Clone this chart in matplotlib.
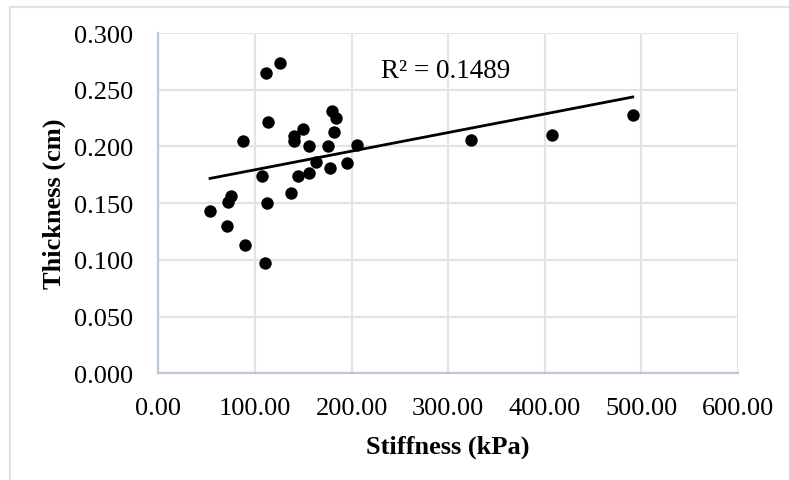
import matplotlib.pyplot as plt
import numpy as np
from matplotlib.patches import Rectangle

# Stiffness (kPa) vs thickness (cm)
stiffness = [53.5, 71.0, 72.3, 75.2, 89.7, 87.6, 110.3, 107.2, 112.0, 113.4,
             111.4, 125.9, 136.9, 140.3, 140.0, 149.6, 144.1, 155.5, 155.5, 162.8,
             175.2, 177.9, 179.3, 183.8, 181.4, 194.8, 205.5, 323.4, 407.8, 491.0]
thickness = [0.143, 0.130, 0.151, 0.156, 0.113, 0.205, 0.097, 0.174, 0.150, 0.222,
             0.265, 0.274, 0.159, 0.209, 0.205, 0.215, 0.174, 0.177, 0.200, 0.186,
             0.200, 0.181, 0.231, 0.225, 0.213, 0.185, 0.201, 0.206, 0.210, 0.228]
r2_label = "R\u00b2 = 0.1489"
xticks = [0, 100, 200, 300, 400, 500, 600]
yticks = [0.0, 0.05, 0.1, 0.15, 0.2, 0.25, 0.3]

plt.rcParams['font.family'] = ['Liberation Serif', 'DejaVu Serif']

fig = plt.figure(figsize=(7.89, 4.81), dpi=100)
ax = fig.add_axes([0.2007, 0.2216, 0.7348, 0.7077])

# light outer frame of the chart area
fig.patches.append(Rectangle((10 / 789, -0.1), 1.2, 1.1 - 8 / 481, transform=fig.transFigure,
                             fill=False, edgecolor="#dde3ec", linewidth=1.6))

x = np.array(stiffness)
y = np.array(thickness)
ax.scatter(x, y, s=80, color="black", zorder=3, linewidths=0)

slope, intercept = np.polyfit(x, y, 1)
xfit = np.array([x.min(), x.max()])
ax.plot(xfit, slope * xfit + intercept, color="black", linewidth=2, zorder=2)

ax.text(230, 0.267, r2_label, fontsize=19.5, va="center", ha="left")

ax.set_xlim(0, 600)
ax.set_ylim(0, 0.3)
ax.set_xticks(xticks)
ax.set_yticks(yticks)
ax.set_xticklabels([f"{v:.2f}" for v in xticks])
ax.set_yticklabels([f"{v:.3f}" for v in yticks])
ax.tick_params(length=0, labelsize=19)
ax.tick_params(axis="y", pad=18)
ax.tick_params(axis="x", pad=17)
ax.grid(True, color="#dfe4ec", linewidth=1.6)
ax.set_axisbelow(True)
for side in ["top", "right"]:
    ax.spines[side].set_visible(False)
for side in ["left", "bottom"]:
    ax.spines[side].set_color("#bcc7d8")
    ax.spines[side].set_linewidth(1.6)

ax.set_xlabel("Stiffness (kPa)", fontsize=19, fontweight="bold")
ax.set_ylabel("Thickness (cm)", fontsize=19, fontweight="bold")
ax.xaxis.label.set_va("center")
ax.yaxis.label.set_va("center")
ax.xaxis.set_label_coords(0.5, -0.215)
ax.yaxis.set_label_coords(-0.18, 0.5)

fig.savefig("out.png", dpi=100)
